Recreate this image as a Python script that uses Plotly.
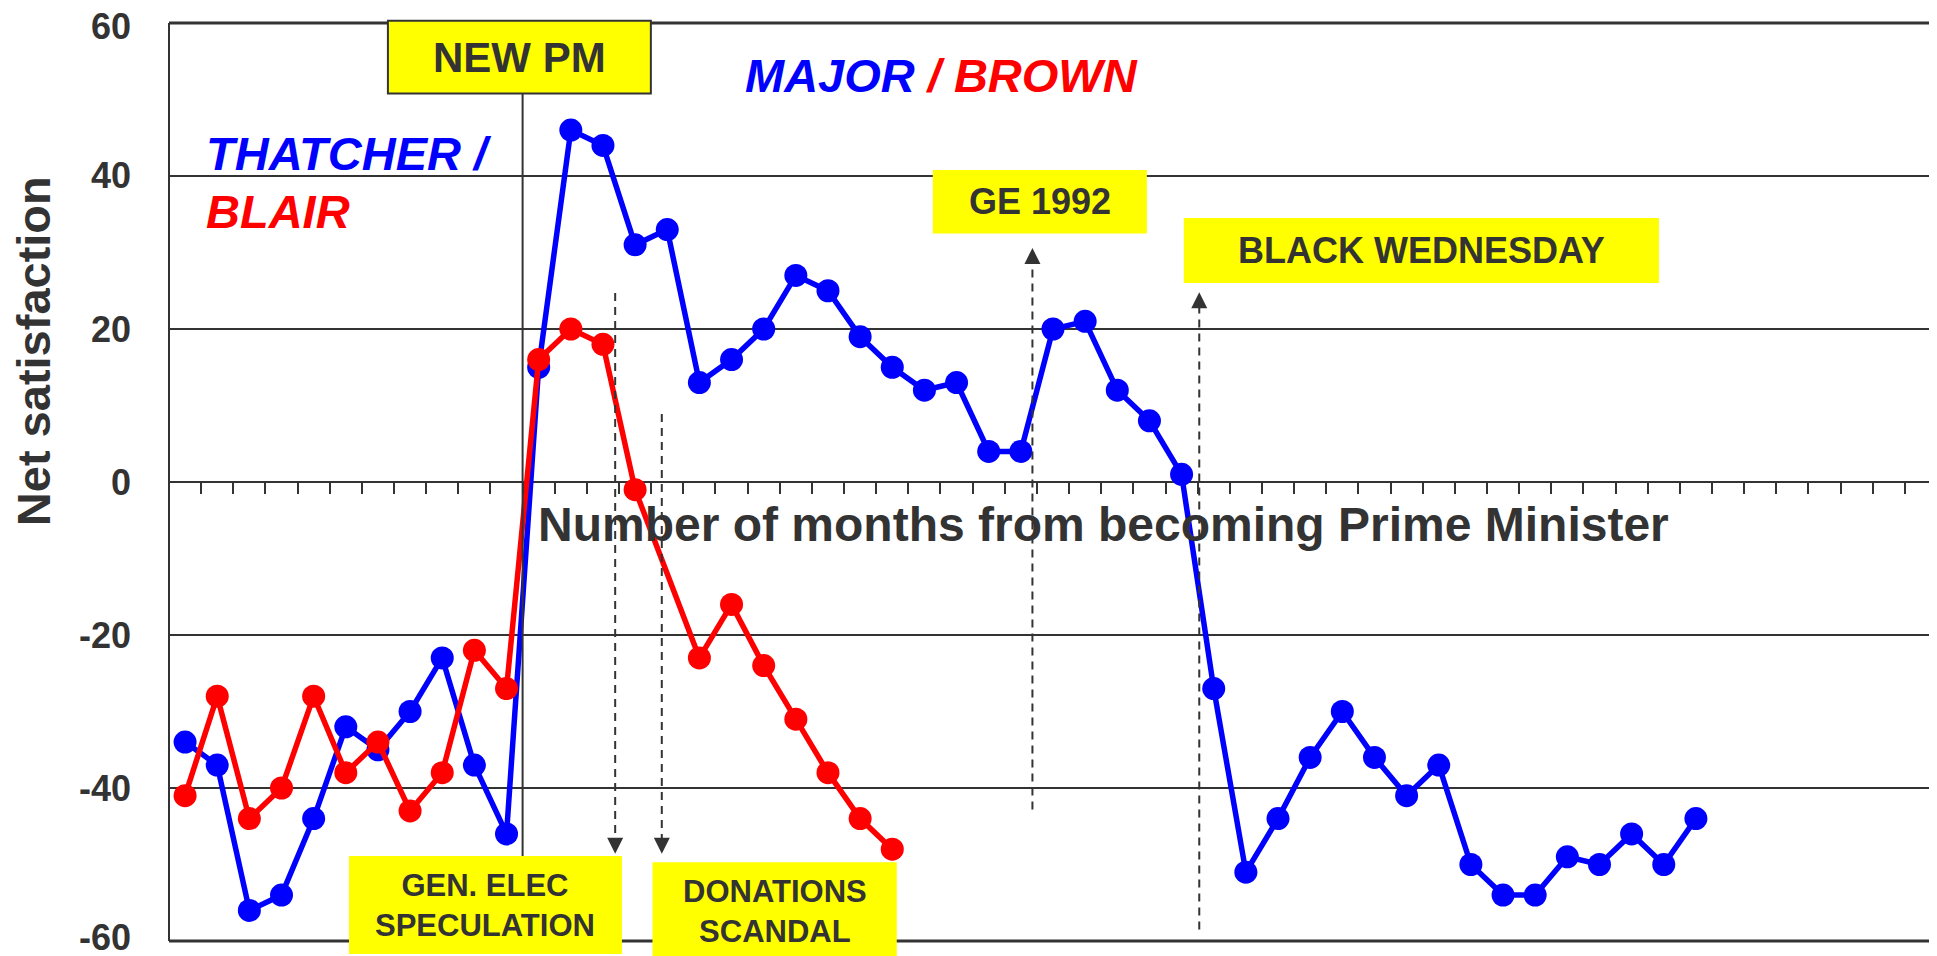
import plotly.graph_objects as go

# months since becoming PM (index 11 = first month in office)
months = list(range(48))

# net satisfaction
thatcher_major = [-34, -37, -56, -54, -44, -32, -35, -30, -23, -37, -46,
                  15, 46, 44, 31, 33, 13, 16, 20, 27, 25, 19, 15, 12, 13, 4, 4,
                  20, 21, 12, 8, 1, -27, -51, -44, -36, -30, -36, -41, -37,
                  -50, -54, -54, -49, -50, -46, -50, -44]
blair_brown = [-41, -28, -44, -40, -28, -38, -34, -43, -38, -22, -27,
               16, 20, 18, -1, None, -23, -16, -24, -31, -38, -44, -48]

y_ticks = [-60, -40, -20, 0, 20, 40, 60]
y_tick_labels = ["-60", "-40", "-20", "0", "20", "40", "60"]

N_CATS = 55
DARK = "#333333"
YELLOW = "#FFFF00"
FONT = "Liberation Sans, Arial, sans-serif"


def px(x):  # category units -> paper
    return (x + 0.5) / N_CATS


def py(y):  # value units -> paper
    return (y + 60) / 120


fig = go.Figure()
fig.add_trace(go.Scatter(x=months, y=thatcher_major, mode="lines+markers",
                         line=dict(color="#0000FF", width=5.5),
                         marker=dict(color="#0000FF", size=23),
                         name="Thatcher / Major"))
fig.add_trace(go.Scatter(x=months[:len(blair_brown)], y=blair_brown,
                         mode="lines+markers", connectgaps=True,
                         line=dict(color="#FF0000", width=5.5),
                         marker=dict(color="#FF0000", size=23),
                         name="Blair / Brown"))

shapes = []
# plot frame: left, top, bottom
shapes.append(dict(type="line", xref="paper", yref="paper", x0=0, x1=0, y0=0, y1=1,
                   line=dict(color=DARK, width=2)))
for yy in (0, 1):
    shapes.append(dict(type="line", xref="paper", yref="paper", x0=0, x1=1,
                       y0=yy, y1=yy, line=dict(color=DARK, width=3)))
# NEW PM divider
shapes.append(dict(type="line", xref="paper", yref="paper", x0=px(10.5), x1=px(10.5),
                   y0=py(-60), y1=py(50.8), line=dict(color=DARK, width=2)))

# dashed event pointers: (x, from, to)
pointers = [(13.38, 24.7, -47.0), (14.83, 8.9, -47.0),
            (26.36, -42.8, 29.0), (31.55, -58.5, 23.2)]
for x, y0, y1 in pointers:
    shapes.append(dict(type="line", xref="paper", yref="paper", x0=px(x), x1=px(x),
                       y0=py(y0), y1=py(y1),
                       line=dict(color=DARK, width=2, dash="8px,6px")))

# yellow label boxes: (x0, x1, y0, y1, text, size, border)
boxes = [
    (6.31, 14.49, 50.8, 60.3, "NEW PM", 42, True),
    (23.26, 29.92, 32.5, 40.8, "GE 1992", 36, False),
    (31.07, 45.85, 26.0, 34.5, "BLACK WEDNESDAY", 36, False),
    (5.10, 13.59, -61.7, -48.9, "GEN. ELEC<br>SPECULATION", 31, False),
    (14.54, 22.14, -62.6, -49.7, "DONATIONS<br>SCANDAL", 31, False),
]
annotations = []
for x0, x1, y0, y1, text, size, border in boxes:
    shapes.append(dict(type="rect", xref="paper", yref="paper",
                       x0=px(x0), x1=px(x1), y0=py(y0), y1=py(y1),
                       fillcolor=YELLOW,
                       line=dict(color=DARK if border else YELLOW, width=2 if border else 0)))
    annotations.append(dict(xref="paper", yref="paper", x=px((x0 + x1) / 2),
                            y=py((y0 + y1) / 2), xanchor="center", yanchor="middle",
                            text=text, showarrow=False,
                            font=dict(family=FONT, size=size, color=DARK, weight="bold")))

# arrow heads at pointer tips
for x, y0, y1 in pointers:
    up = y1 > y0
    tip = y1 + (1.6 if up else -1.6)
    annotations.append(dict(xref="paper", yref="paper", x=px(x), y=py(tip), text="",
                            showarrow=True, ax=0, ay=12 if up else -12,
                            arrowhead=2, arrowsize=1.6, arrowwidth=2,
                            arrowcolor=DARK, standoff=0))

# y tick labels as annotations (plotly drops the ones at the frame edges);
# the two end labels are nudged inwards so they stay inside the page
for v, lab in zip(y_ticks, y_tick_labels):
    nudge = -3 if v == y_ticks[-1] else (4 if v == y_ticks[0] else 0)
    annotations.append(dict(xref="paper", yref="paper", x=0, xshift=-36, y=py(v),
                            yshift=nudge, xanchor="right", yanchor="middle", text=lab,
                            showarrow=False,
                            font=dict(family=FONT, size=36, color=DARK, weight="bold")))

label_font = dict(family=FONT, size=47, weight="bold", style="italic")
annotations += [
    dict(xref="paper", yref="paper", x=px(0.59), y=py(43.0),
         xanchor="left", yanchor="middle", text="THATCHER /", showarrow=False,
         font=dict(label_font, color="#0000FF")),
    dict(xref="paper", yref="paper", x=px(0.59), y=py(35.3),
         xanchor="left", yanchor="middle", text="BLAIR", showarrow=False,
         font=dict(label_font, color="#FF0000")),
    dict(xref="paper", yref="paper", x=px(17.35), y=py(53.1),
         xanchor="left", yanchor="middle",
         text="<span style='color:#0000FF'>MAJOR </span>"
              "<span style='color:#FF0000'>/ BROWN</span>",
         showarrow=False, font=label_font),
    dict(xref="paper", yref="paper", x=px(28.58), y=py(-5.5),
         xanchor="center", yanchor="middle",
         text="Number of months from becoming Prime Minister", showarrow=False,
         font=dict(family=FONT, size=48, color=DARK, weight="bold")),
    dict(xref="paper", yref="paper", x=0, xshift=-136, y=py(17.1),
         xanchor="center", yanchor="middle",
         text="Net satisfaction", textangle=-90, showarrow=False,
         font=dict(family=FONT, size=47, color=DARK, weight="bold")),
]

# the page body adds an 8px offset, so the figure is 8px smaller than the window
fig.update_layout(
    width=1929, height=948,
    margin=dict(l=161, r=0, t=15, b=15),
    paper_bgcolor="white", plot_bgcolor="white",
    showlegend=False,
    font=dict(family=FONT, color=DARK),
    xaxis=dict(range=[-0.5, N_CATS - 0.5], anchor="free", position=0.5,
               showgrid=False, zeroline=False, showline=False,
               tick0=0.5, dtick=1, ticks="outside", ticklen=11, tickwidth=2,
               tickcolor=DARK, showticklabels=False),
    yaxis=dict(range=[-60, 60], tickvals=y_ticks, showticklabels=False,
               showgrid=True, gridcolor=DARK, gridwidth=2, zeroline=False),
    shapes=shapes,
    annotations=annotations,
)

fig.write_html("out.html")
